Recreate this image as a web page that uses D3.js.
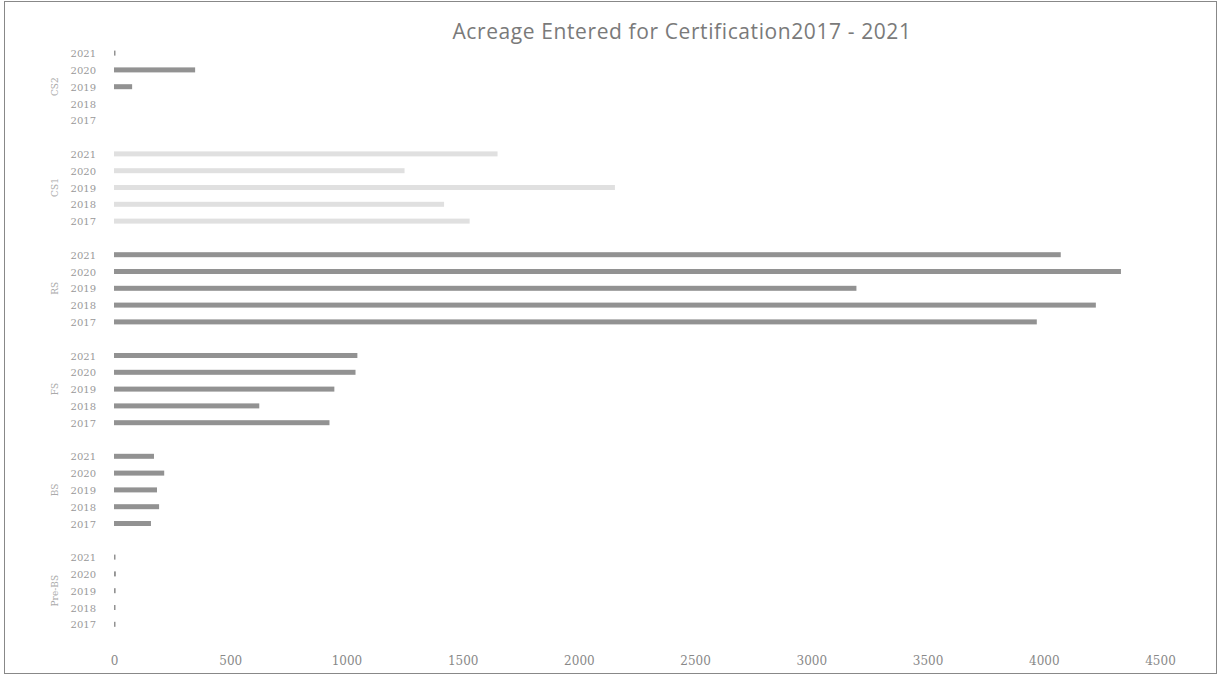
<!DOCTYPE html>
<html><head><meta charset="utf-8">
<script src="https://cdn.jsdelivr.net/npm/d3@7"></script>
<style>body{margin:0;background:#fff;}svg{display:block;}</style>
</head><body>
<script>
const groups = ["CS2", "CS1", "RS", "FS", "BS", "Pre-BS"];
const years = ["2021", "2020", "2019", "2018", "2017"];
const values = [
  [5, 349, 78, 0, 0],
  [1650, 1250, 2155, 1420, 1530],
  [4073, 4332, 3194, 4224, 3970],
  [1047, 1039, 948, 625, 927],
  [172, 216, 185, 194, 159],
  [6, 8, 7, 6, 5]
];
const faintGroup = "CS1";
const xTicks = [0, 500, 1000, 1500, 2000, 2500, 3000, 3500, 4000, 4500];
const title = "Acreage Entered for Certification2017 - 2021";

const W = 1221, H = 679;
const svg = d3.select("body").append("svg").attr("width", W).attr("height", H);
svg.append("rect").attr("x", 4.5).attr("y", 1.5).attr("width", 1212).attr("height", 672)
  .attr("fill", "#fff").attr("stroke", "#888").attr("stroke-width", 1);

svg.append("text").attr("x", 682).attr("y", 39).attr("text-anchor", "middle")
  .attr("font-family", "Open Sans, sans-serif").attr("font-size", 21).attr("letter-spacing", 0.6)
  .attr("fill", "#7a7a7a").text(title);

const x = d3.scaleLinear().domain([0, 4500]).range([114, 1160]);

// rows: each group has 5 years + 1 spacer slot
const slots = [];
groups.forEach(g => { years.forEach(y => slots.push(g + "|" + y)); slots.push(g + "|gap"); });
const yb = d3.scaleBand().domain(slots).range([44.7, 44.7 + 16.8 * slots.length]);

const rows = [];
groups.forEach((g, gi) => years.forEach((yr, yi) => rows.push({g, yr, v: values[gi][yi]})));

svg.append("g").selectAll("rect").data(rows).join("rect")
  .attr("x", x(0))
  .attr("y", d => yb(d.g + "|" + d.yr) + yb.bandwidth() / 2 - 2.5)
  .attr("width", d => Math.max(x(d.v) - x(0), d.v > 0 ? 1.5 : 0))
  .attr("height", 5)
  .attr("fill", d => d.g === faintGroup ? "#e0e0e0" : "#929292");

svg.append("g").selectAll("text").data(rows).join("text")
  .attr("x", 96).attr("y", d => yb(d.g + "|" + d.yr) + yb.bandwidth() / 2 + 4)
  .attr("text-anchor", "end").attr("font-family", "DejaVu Serif, serif").attr("font-size", 10)
  .attr("fill", "#999").text(d => d.yr);

svg.append("g").selectAll("text").data(groups).join("text")
  .attr("transform", g => {
    const cy = yb(g + "|2019") + yb.bandwidth() / 2;
    return `translate(58,${cy}) rotate(-90)`;
  })
  .attr("text-anchor", "middle").attr("font-family", "DejaVu Serif, serif").attr("font-size", 9)
  .attr("fill", "#aaa").text(g => g);

const ax = svg.append("g").attr("transform", "translate(0,661)")
  .call(d3.axisBottom(x).tickValues(xTicks).tickSize(0).tickPadding(0).tickFormat(d3.format("d")));
ax.select(".domain").remove();
ax.selectAll("text").attr("font-family", "DejaVu Serif, serif").attr("font-size", 12)
  .attr("fill", "#888").attr("dy", "0.35em");
</script>
</body></html>
